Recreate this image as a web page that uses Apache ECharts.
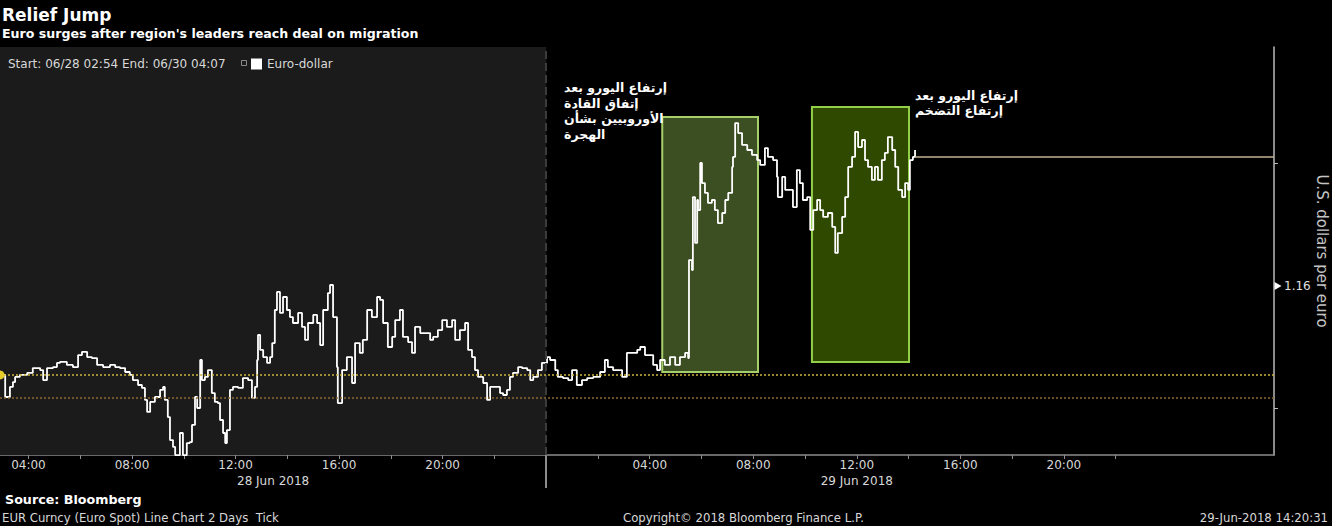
<!DOCTYPE html>
<html><head><meta charset="utf-8">
<script src="https://cdn.jsdelivr.net/npm/echarts@6/dist/echarts.min.js"></script>
<style>html,body{margin:0;padding:0;background:#000;}#c{width:1332px;height:526px;}</style>
</head><body><div id="c"></div>
<script>
// x values: minutes after 28 Jun 2018 00:00
const START_MIN = 174;   // 06/28 02:54
const END_MIN = 3127;    // 06/30 04:07
const MIDNIGHT = 1440;   // 29 Jun 00:00

const euroDollar = [
[174,1.15637],[186,1.15547],[193,1.15547],[197,1.15588],[204,1.15608],[209,1.15629],[220,1.15637],[237,1.15645],
[250,1.15665],[267,1.15657],[274,1.15616],[283,1.15665],[297,1.15669],[306,1.15686],[313,1.15690],[329,1.15678],
[343,1.15669],[355,1.15718],[364,1.15731],[376,1.15710],[387,1.15706],[399,1.15678],[413,1.15669],[429,1.15678],
[441,1.15669],[452,1.15665],[464,1.15649],[475,1.15637],[482,1.15616],[494,1.15596],[503,1.15584],[510,1.15535],
[515,1.15486],[522,1.15527],[533,1.15547],[545,1.15576],[552,1.15588],[556,1.15535],[563,1.15465],[568,1.15371],
[575,1.15343],[580,1.15310],[591,1.15400],[598,1.15310],[607,1.15359],[614,1.15363],[619,1.15433],[626,1.15547],
[631,1.15502],[638,1.15698],[642,1.15616],[649,1.15629],[656,1.15657],[665,1.15563],[672,1.15527],[679,1.15522],
[684,1.15453],[691,1.15400],[696,1.15359],[700,1.15412],[707,1.15576],[714,1.15588],[726,1.15584],[737,1.15624],
[749,1.15616],[758,1.15543],[765,1.15588],[770,1.15698],[772,1.15800],[777,1.15739],[784,1.15710],[793,1.15686],
[800,1.15710],[805,1.15767],[811,1.15902],[816,1.15976],[823,1.15890],[830,1.15955],[839,1.15902],[846,1.15873],
[853,1.15849],[865,1.15890],[874,1.15833],[881,1.15780],[888,1.15849],[900,1.15882],[909,1.15849],[916,1.15759],
[923,1.15902],[934,1.15971],[939,1.16004],[946,1.15873],[955,1.15669],[957,1.15522],[967,1.15657],[978,1.15710],
[990,1.15604],[997,1.15767],[1008,1.15727],[1015,1.15780],[1025,1.15902],[1036,1.15873],[1048,1.15955],[1055,1.15943],
[1062,1.15849],[1073,1.15751],[1083,1.15792],[1090,1.15861],[1101,1.15902],[1108,1.15792],[1120,1.15771],[1129,1.15727],
[1136,1.15833],[1148,1.15808],[1159,1.15808],[1171,1.15780],[1178,1.15792],[1189,1.15820],[1199,1.15861],[1210,1.15833],
[1222,1.15861],[1229,1.15780],[1240,1.15820],[1252,1.15849],[1259,1.15739],[1268,1.15710],[1275,1.15657],[1282,1.15629],
[1294,1.15604],[1303,1.15535],[1310,1.15588],[1321,1.15588],[1333,1.15563],[1340,1.15555],[1349,1.15576],[1356,1.15629],
[1363,1.15645],[1375,1.15669],[1384,1.15665],[1396,1.15657],[1403,1.15616],[1410,1.15629],[1421,1.15657],[1430,1.15686],
[1442,1.15710],[1449,1.15698],[1461,1.15657],[1467,1.15629],[1479,1.15624],[1491,1.15616],[1500,1.15657],[1511,1.15596],
[1523,1.15616],[1535,1.15624],[1549,1.15629],[1565,1.15649],[1576,1.15698],[1583,1.15669],[1595,1.15657],[1607,1.15657],
[1616,1.15629],[1627,1.15727],[1639,1.15727],[1651,1.15739],[1658,1.15751],[1669,1.15718],[1681,1.15718],[1688,1.15678],
[1697,1.15657],[1704,1.15698],[1715,1.15678],[1727,1.15710],[1739,1.15678],[1750,1.15710],[1762,1.15727],[1769,1.15706],
[1771,1.16106],[1778,1.16065],[1780,1.16363],[1785,1.16176],[1790,1.16351],[1792,1.16310],[1797,1.16502],[1801,1.16420],
[1808,1.16380],[1815,1.16339],[1824,1.16351],[1831,1.16310],[1838,1.16257],[1848,1.16298],[1855,1.16351],[1862,1.16380],
[1871,1.16486],[1873,1.16527],[1878,1.16665],[1885,1.16624],[1894,1.16576],[1906,1.16555],[1917,1.16535],[1929,1.16514],
[1936,1.16494],[1947,1.16563],[1954,1.16527],[1966,1.16514],[1975,1.16445],[1977,1.16363],[1987,1.16445],[1994,1.16392],
[2005,1.16392],[2012,1.16322],[2021,1.16473],[2028,1.16420],[2035,1.16351],[2045,1.16363],[2052,1.16229],[2059,1.16310],
[2068,1.16351],[2075,1.16310],[2082,1.16282],[2093,1.16298],[2103,1.16241],[2110,1.16135],[2116,1.16216],[2126,1.16282],
[2133,1.16363],[2140,1.16486],[2149,1.16527],[2156,1.16629],[2163,1.16567],[2172,1.16596],[2179,1.16514],[2186,1.16486],
[2195,1.16433],[2202,1.16486],[2209,1.16433],[2218,1.16514],[2225,1.16543],[2232,1.16608],[2242,1.16555],[2249,1.16486],
[2256,1.16392],[2265,1.16363],[2272,1.16420],[2279,1.16392],[2283,1.16514],[2290,1.16527],[2295,1.16555]
];

const startPrice = 1.15637;
const lowRef = 1.15543;
const lastPrice = 1.16527;
const lastTime = 2295;

const hourLabels = [240,480,720,960,1200,1680,1920,2160,2400,2640];
const hourTicks = [240,360,480,600,720,840,960,1080,1200,1320,1560,1680,1800,1920,2040,2160,2280,2400,2520,2640,2760];
const dayLabelPos = [807,2160];
const dayLabelText = ['28 Jun 2018','29 Jun 2018'];
const yTicks = [1.155,1.16,1.165];
const yLabels = [1.16];
const Y_MIN = 1.153102, Y_MAX = 1.169755;

// highlighted windows [x0, y0, x1, y1]
const box1 = [1709,1.15649,1931,1.16690];
const box2 = [2056,1.15690,2281,1.16731];

const note1 = 'إرتفاع اليورو بعد\nإتفاق القادة\nالأوروبيين بشأن\nالهجرة';
const note2 = 'إرتفاع اليورو بعد\nإرتفاع التضخم';

const FONT = '"DejaVu Sans", sans-serif';
function hhmm(v){const m=((v%1440)+1440)%1440;const h=Math.floor(m/60),mi=m%60;return (h<10?'0':'')+h+':'+(mi<10?'0':'')+mi;}

const chart = echarts.init(document.getElementById('c'), null, {renderer:'svg'});
chart.setOption({
  backgroundColor:'#000',
  animation:false,
  grid:{left:0,right:58,top:47,bottom:71,containLabel:false,outerBoundsMode:'none'},
  legend:{data:['Euro-dollar'],left:251,top:58,icon:'rect',itemWidth:11,itemHeight:11,padding:0,z:20,
    textStyle:{color:'#d8d8d8',fontSize:12,fontFamily:FONT}},
  xAxis:[{
    type:'value',min:START_MIN,max:END_MIN,position:'bottom',
    axisLine:{show:true,lineStyle:{color:'#8c8c8c',width:1.5}},
    axisTick:{show:true,customValues:hourTicks,length:4,lineStyle:{color:'#8c8c8c',width:1}},
    axisLabel:{customValues:hourLabels,formatter:hhmm,color:'#d8d8d8',fontSize:12,fontFamily:FONT,margin:4},
    splitLine:{show:false}
  },{
    type:'value',min:START_MIN,max:END_MIN,position:'bottom',offset:0,
    axisLine:{show:false},
    axisTick:{show:true,customValues:[MIDNIGHT],length:33,lineStyle:{color:'#8c8c8c',width:2}},
    axisLabel:{customValues:dayLabelPos,formatter:function(v){return dayLabelText[dayLabelPos.indexOf(v)]||'';},
      color:'#d8d8d8',fontSize:12,fontFamily:FONT,margin:20},
    splitLine:{show:false}
  }],
  yAxis:{
    type:'value',position:'right',min:Y_MIN,max:Y_MAX,
    axisLine:{show:true,lineStyle:{color:'#b8b8b8',width:1.5}},
    axisTick:{show:true,customValues:yTicks,length:4,lineStyle:{color:'#b8b8b8'}},
    axisLabel:{customValues:yLabels,formatter:function(v){return v.toFixed(2);},color:'#e0e0e0',fontSize:12,fontFamily:FONT,margin:10},
    splitLine:{show:false},
    name:'U.S. dollars per euro',nameLocation:'middle',nameRotate:-90,nameGap:40,nameMoveOverlap:false,
    nameTextStyle:{color:'#c4c4c4',fontSize:15,fontFamily:FONT}
  },
  series:[
    {name:'bg',type:'line',data:[],z:1,silent:true,
     markArea:{silent:true,itemStyle:{color:'#1b1b1b'},data:[[{xAxis:START_MIN,yAxis:Y_MAX},{xAxis:MIDNIGHT,yAxis:Y_MIN}]]},
     markLine:{silent:true,symbol:'none',label:{show:false},data:[
       {xAxis:MIDNIGHT,lineStyle:{color:'#3c3c3c',type:[8,4],width:2}}
     ]}
    },
    {name:'Euro-dollar',type:'line',step:'end',data:euroDollar,showSymbol:false,z:3,
     itemStyle:{color:'#ffffff'},lineStyle:{color:'#ffffff',width:1.8},
     markLine:{silent:true,symbol:'none',label:{show:false},
       data:[
         [{coord:[START_MIN,startPrice],lineStyle:{color:'#cdb53c',type:[2,2],width:1.5}},{coord:[END_MIN,startPrice]}],
         [{coord:[START_MIN,lowRef],lineStyle:{color:'#8c6a2c',type:[2,2],width:1.5}},{coord:[END_MIN,lowRef]}],
         [{coord:[lastTime,lastPrice],lineStyle:{color:'#c2b294',type:'solid',width:1.5}},{coord:[END_MIN,lastPrice]}]
       ]},
     markPoint:{silent:true,label:{show:false},data:[
       {coord:[START_MIN,startPrice],symbol:'circle',symbolSize:9,itemStyle:{color:'#e6cc2a'}},
       {coord:[END_MIN,1.16],symbol:'path://M0,0L10,5L0,10Z',symbolSize:[7,8],symbolOffset:[4,0],itemStyle:{color:'#ffffff'}}
     ]}
    },
    {name:'boxes',type:'line',data:[],z:5,silent:true,
     markArea:{silent:true,data:[
       [{xAxis:box1[0],yAxis:box1[3],itemStyle:{color:'rgba(133,176,76,0.45)',borderColor:'#a6cf6c',borderWidth:2}},{xAxis:box1[2],yAxis:box1[1]}],
       [{xAxis:box2[0],yAxis:box2[3],itemStyle:{color:'rgba(118,185,0,0.40)',borderColor:'#92d048',borderWidth:2}},{xAxis:box2[2],yAxis:box2[1]}]
     ]}
    }
  ],
  graphic:[
    {type:'text',z:100,x:2,y:15,style:{text:'Relief Jump',fill:'#ffffff',font:'bold 17px '+FONT,textVerticalAlign:'middle'}},
    {type:'text',z:100,x:2,y:33,style:{text:"Euro surges after region's leaders reach deal on migration",fill:'#ffffff',font:'bold 12.6px '+FONT,textVerticalAlign:'middle'}},
    {type:'text',z:100,x:8,y:64,style:{text:'Start: 06/28 02:54 End: 06/30 04:07',fill:'#d8d8d8',font:'12px '+FONT,textVerticalAlign:'middle'}},
    {type:'rect',z:100,shape:{x:241.5,y:60.5,width:5,height:5},style:{fill:'none',stroke:'#8a8a8a',lineWidth:1}},
    {type:'text',z:100,x:564,y:80,style:{text:note1,fill:'#ffffff',font:'bold 12.5px '+FONT,lineHeight:15.5,textVerticalAlign:'top'}},
    {type:'text',z:100,x:915,y:88,style:{text:note2,fill:'#ffffff',font:'bold 12.5px '+FONT,lineHeight:15,textVerticalAlign:'top'}},
    {type:'text',z:100,x:5,y:499,style:{text:'Source: Bloomberg',fill:'#ffffff',font:'bold 12.7px '+FONT,textVerticalAlign:'middle'}},
    {type:'text',z:100,x:2,y:518,style:{text:'EUR Curncy (Euro Spot) Line Chart 2 Days  Tick',fill:'#d8d8d8',font:'11.7px '+FONT,textVerticalAlign:'middle'}},
    {type:'text',z:100,x:623,y:518,style:{text:'Copyright\u00A9 2018 Bloomberg Finance L.P.',fill:'#d8d8d8',font:'11.7px '+FONT,textVerticalAlign:'middle'}},
    {type:'text',z:100,x:1328,y:518,style:{text:'29-Jun-2018 14:20:31',fill:'#d8d8d8',font:'11.7px '+FONT,textAlign:'right',textVerticalAlign:'middle'}}
  ]
});
</script></body></html>
